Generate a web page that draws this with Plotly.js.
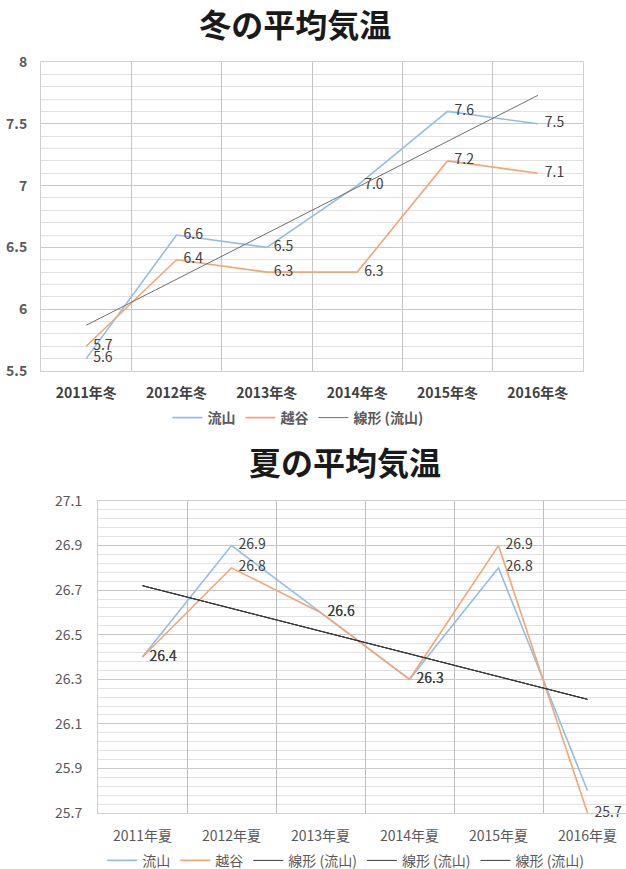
<!DOCTYPE html>
<html>
<head>
<meta charset="utf-8">
<script src="https://cdn.plot.ly/plotly-3.0.1.min.js"></script>
<style>
  html, body { margin: 0; padding: 0; background: #fff; }
  body { width: 626px; height: 869px; overflow: hidden; position: relative; }
  #winter { position: absolute; left: 0; top: 0; width: 626px; height: 440px; }
  #summer { position: absolute; left: 0; top: 400px; width: 660px; height: 480px; }
</style>
</head>
<body>
<div id="winter"></div>
<div id="summer"></div>
<script>
// ---- Data ----
const winterCategories = ['2011年冬', '2012年冬', '2013年冬', '2014年冬', '2015年冬', '2016年冬'];
const winterNagareyama = [5.6, 6.6, 6.5, 7.0, 7.6, 7.5];   // 流山
const winterKoshigaya  = [5.7, 6.4, 6.3, 6.3, 7.2, 7.1];   // 越谷
const winterTrendX = ['2011年冬', '2016年冬'];
const winterTrendY = [5.87, 7.73];                          // 線形 (流山)

const summerCategories = ['2011年夏', '2012年夏', '2013年夏', '2014年夏', '2015年夏', '2016年夏'];
const summerNagareyama = [26.4, 26.9, 26.6, 26.3, 26.8, 25.8]; // 流山
const summerKoshigaya  = [26.4, 26.8, 26.6, 26.3, 26.9, 25.7]; // 越谷
const summerNagareyamaLabelShown = [true, true, true, true, true, false];
const summerTrendX = ['2011年夏', '2016年夏'];
const summerTrendY = [26.72, 26.21];                          // 線形 (流山)

const seriesNames = ['流山', '越谷', '線形 (流山)'];

// ---- Styles ----
const FONT = '"Noto Sans CJK JP", "Noto Sans", sans-serif';
const BLUE = '#93bde5';
const ORANGE = '#f2a675';
const labelColor = '#404040';
const tickColor = '#595959';

function fmt(arr, shown) {
  // en space in front keeps the data label a little to the right of its point
  return arr.map((v, i) => (shown && !shown[i]) ? '' : '\u2002' + v.toFixed(1));
}

// ---- Winter chart ----
const winterTraces = [
  {
    x: winterCategories, y: winterNagareyama, name: seriesNames[0], type: 'scatter',
    mode: 'lines+text', text: fmt(winterNagareyama), textposition: 'middle right',
    textfont: {family: FONT, size: 14, color: labelColor},
    line: {color: BLUE, width: 1.6}, cliponaxis: false
  },
  {
    x: winterCategories, y: winterKoshigaya, name: seriesNames[1], type: 'scatter',
    mode: 'lines+text', text: fmt(winterKoshigaya), textposition: 'middle right',
    textfont: {family: FONT, size: 14, color: labelColor},
    line: {color: ORANGE, width: 1.6}, cliponaxis: false
  },
  {
    x: winterTrendX, y: winterTrendY, name: seriesNames[2], type: 'scatter',
    mode: 'lines', line: {color: '#6f6f6f', width: 1}
  }
];

const winterLayout = {
  width: 626, height: 440,
  margin: {l: 41, r: 43, t: 62, b: 69},
  paper_bgcolor: '#fff', plot_bgcolor: '#fff',
  font: {family: FONT, size: 14, color: tickColor},
  title: {
    text: '冬の平均気温', xref: 'paper', x: 0.469, xanchor: 'center',
    yref: 'container', y: 0.941, yanchor: 'middle',
    font: {family: FONT, size: 32, weight: 'bold', color: '#1a1a1a'}
  },
  xaxis: {
    type: 'category', categoryarray: winterCategories, range: [-0.5, 5.5],
    tickson: 'boundaries', showgrid: true, gridcolor: '#c4c4c4', gridwidth: 1,
    showline: true, linecolor: '#d0d0d0', mirror: true, ticks: '',
    ticklabelstandoff: 9,
    tickfont: {family: FONT, size: 14, weight: 'bold', color: '#404040'},
    zeroline: false
  },
  yaxis: {
    range: [5.5, 8], tick0: 5.5, dtick: 0.5, showgrid: true, gridcolor: '#c8c8c8',
    minor: {tick0: 5.5, dtick: 0.1, showgrid: true, gridcolor: '#e2e2e2', ticks: ''},
    showline: true, linecolor: '#d0d0d0', mirror: true, ticks: '', zeroline: false,
    ticklabelstandoff: 10,
    tickfont: {family: FONT, size: 14, weight: 'bold', color: tickColor}
  },
  showlegend: true,
  legend: {
    orientation: 'h', xref: 'paper', x: 0.474, xanchor: 'center',
    yref: 'container', y: 0.05, yanchor: 'middle',
    font: {family: FONT, size: 14, weight: 'bold', color: tickColor},
    itemwidth: 30, tracegroupgap: 0, bgcolor: 'rgba(0,0,0,0)'
  }
};

// ---- Summer chart ----
const summerTraces = [
  {
    x: summerCategories, y: summerNagareyama, name: seriesNames[0], type: 'scatter',
    mode: 'lines+text', text: fmt(summerNagareyama, summerNagareyamaLabelShown), textposition: 'middle right',
    textfont: {family: FONT, size: 14, color: labelColor},
    line: {color: BLUE, width: 1.6}, cliponaxis: false
  },
  {
    x: summerCategories, y: summerKoshigaya, name: seriesNames[1], type: 'scatter',
    mode: 'lines+text', text: fmt(summerKoshigaya), textposition: 'middle right',
    textfont: {family: FONT, size: 14, color: labelColor},
    line: {color: ORANGE, width: 1.6}, cliponaxis: false
  },
  {
    x: summerTrendX, y: summerTrendY, name: seriesNames[2], type: 'scatter',
    mode: 'lines', line: {color: '#3a3a3a', width: 1}
  },
  {
    x: summerTrendX, y: summerTrendY, name: seriesNames[2], type: 'scatter',
    mode: 'lines', line: {color: '#3a3a3a', width: 1}
  },
  {
    x: summerTrendX, y: summerTrendY, name: seriesNames[2], type: 'scatter',
    mode: 'lines', line: {color: '#3a3a3a', width: 1}
  }
];

const summerLayout = {
  width: 660, height: 480,
  margin: {l: 98, r: 28, t: 101, b: 67},
  paper_bgcolor: 'rgba(0,0,0,0)', plot_bgcolor: '#fff',
  font: {family: FONT, size: 14, color: tickColor},
  title: {
    text: '夏の平均気温', xref: 'paper', x: 0.4625, xanchor: 'center',
    yref: 'container', y: 0.8667, yanchor: 'middle',
    font: {family: FONT, size: 32, weight: 'bold', color: '#1a1a1a'}
  },
  xaxis: {
    type: 'category', categoryarray: summerCategories, range: [-0.5, 5.5],
    tickson: 'boundaries', showgrid: true, gridcolor: '#bdbdbd', gridwidth: 1,
    showline: true, linecolor: '#d0d0d0', mirror: true, ticks: '',
    ticklabelstandoff: 10,
    tickfont: {family: FONT, size: 14, color: tickColor},
    zeroline: false
  },
  yaxis: {
    range: [25.7, 27.1], tick0: 25.7, dtick: 0.2, tickformat: '.1f',
    showgrid: true, gridcolor: '#c8c8c8',
    minor: {tick0: 25.7, dtick: 0.04, showgrid: true, gridcolor: '#e2e2e2', ticks: ''},
    showline: true, linecolor: '#d0d0d0', mirror: true, ticks: '', zeroline: false,
    ticklabelstandoff: 12,
    tickfont: {family: FONT, size: 14, color: tickColor}
  },
  showlegend: true,
  legend: {
    orientation: 'h', xref: 'paper', x: 0.464, xanchor: 'center',
    yref: 'container', y: 0.04, yanchor: 'middle',
    font: {family: FONT, size: 14, color: tickColor},
    itemwidth: 30, tracegroupgap: 0, bgcolor: 'rgba(0,0,0,0)'
  }
};

const config = {staticPlot: true, displayModeBar: false, responsive: false};
Plotly.newPlot('winter', winterTraces, winterLayout, config);
Plotly.newPlot('summer', summerTraces, summerLayout, config);
</script>
</body>
</html>
